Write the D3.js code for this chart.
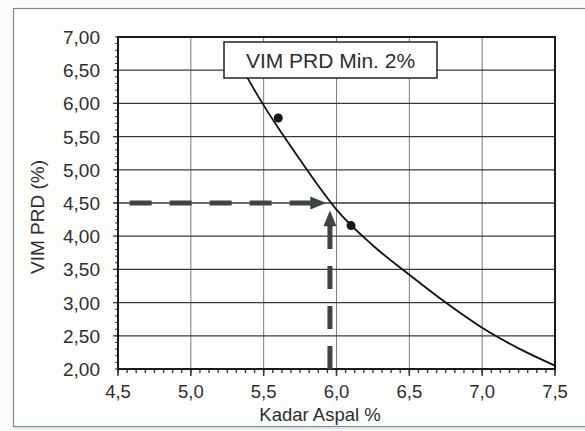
<!DOCTYPE html>
<html><head><meta charset="utf-8">
<script src="https://cdn.jsdelivr.net/npm/d3@7/dist/d3.min.js"></script>
<style>
body{margin:0;background:#fbfbfa;}
text{font-family:"Liberation Sans",Arial,sans-serif;fill:#2e2e2e;}
</style></head><body>
<script>
// ---- data ----
const xTicks = [4.5, 5.0, 5.5, 6.0, 6.5, 7.0, 7.5];
const xTickLabels = ["4,5", "5,0", "5,5", "6,0", "6,5", "7,0", "7,5"];
const yTicks = [2.0, 2.5, 3.0, 3.5, 4.0, 4.5, 5.0, 5.5, 6.0, 6.5, 7.0];
const yTickLabels = ["2,00", "2,50", "3,00", "3,50", "4,00", "4,50", "5,00", "5,50", "6,00", "6,50", "7,00"];
const pointX = [5.6, 6.1];
const pointY = [5.78, 4.16];
const curveX = [5.33, 5.39, 5.5, 5.625, 5.75, 5.875, 6.0, 6.25, 6.5, 6.75, 7.0, 7.25, 7.5];
const curveY = [6.62, 6.38, 5.97, 5.55, 5.15, 4.76, 4.40, 3.86, 3.42, 3.00, 2.62, 2.31, 2.05];
const targetY = 4.5;       // VIM PRD target
const resultX = 5.955;     // Kadar aspal
const hArrowX = [4.58, 5.93];
const vArrowY = [2.0, 4.39];
const boxLabel = "VIM PRD Min. 2%";
const xTitle = "Kadar Aspal %";
const yTitle = "VIM PRD (%)";

// ---- layout ----
const W = 585, H = 431;
const svg = d3.select("body").append("svg").attr("width", W).attr("height", H);

// outer frame
svg.append("rect").attr("x", 13.5).attr("y", 8.5).attr("width", 600).attr("height", 418)
  .attr("fill", "#fdfdfc").attr("stroke", "#8a8a8a").attr("stroke-width", 1.2);
svg.append("line").attr("x1", 14).attr("x2", 585).attr("y1", 428).attr("y2", 428)
  .attr("stroke", "#cfe3ee").attr("stroke-width", 2);

const x = d3.scaleLinear().domain([4.5, 7.5]).range([118, 555]);
const y = d3.scaleLinear().domain([2, 7]).range([369, 37]);

// plot background
svg.append("rect").attr("x", x(4.5)).attr("y", y(7)).attr("width", x(7.5) - x(4.5)).attr("height", y(2) - y(7))
  .attr("fill", "#ffffff");

// vertical gridlines
svg.append("g").selectAll("line").data(xTicks.slice(1, -1)).join("line")
  .attr("x1", d => x(d)).attr("x2", d => x(d)).attr("y1", y(7)).attr("y2", y(2))
  .attr("stroke", "#7d7d7d").attr("stroke-width", 1);

// horizontal gridlines
svg.append("g").selectAll("line").data(yTicks.slice(1, -1)).join("line")
  .attr("x1", x(4.5) - 5).attr("x2", x(7.5)).attr("y1", d => y(d)).attr("y2", d => y(d))
  .attr("stroke", "#3a3a3a").attr("stroke-width", 1.3);

// minor ticks
const yMinor = d3.range(20, 71, 1).map(v => v / 10);
svg.append("g").selectAll("line").data(yMinor).join("line")
  .attr("x1", x(4.5) - 3).attr("x2", x(4.5)).attr("y1", d => y(d)).attr("y2", d => y(d))
  .attr("stroke", "#333").attr("stroke-width", 1);
const xMinor = d3.range(0, 49, 1).map(i => 4.5 + i * 0.0625);
svg.append("g").selectAll("line").data(xMinor).join("line")
  .attr("x1", d => x(d)).attr("x2", d => x(d)).attr("y1", y(2)).attr("y2", y(2) + 4)
  .attr("stroke", "#333").attr("stroke-width", 1.3);
svg.append("g").selectAll("line").data(xTicks).join("line")
  .attr("x1", d => x(d)).attr("x2", d => x(d)).attr("y1", y(2)).attr("y2", y(2) + 7)
  .attr("stroke", "#333").attr("stroke-width", 1.5);

// plot border
svg.append("rect").attr("x", x(4.5)).attr("y", y(7)).attr("width", x(7.5) - x(4.5)).attr("height", y(2) - y(7))
  .attr("fill", "none").attr("stroke", "#1a1a1a").attr("stroke-width", 2);

// tick labels
svg.append("g").selectAll("text").data(yTicks).join("text")
  .attr("x", 100).attr("y", d => y(d) + 7).attr("text-anchor", "end")
  .attr("font-size", 19).text((d, i) => yTickLabels[i]);
svg.append("g").selectAll("text").data(xTicks).join("text")
  .attr("x", d => x(d)).attr("y", 398).attr("text-anchor", "middle")
  .attr("font-size", 18.5).text((d, i) => xTickLabels[i]);

// axis titles
svg.append("text").attr("x", 320).attr("y", 421).attr("text-anchor", "middle")
  .attr("font-size", 18.5).text(xTitle);
svg.append("text").attr("transform", "translate(44,217) rotate(-90)").attr("text-anchor", "middle")
  .attr("font-size", 19).text(yTitle);

// curve
const line = d3.line().x(d => x(d[0])).y(d => y(d[1])).curve(d3.curveMonotoneX);
svg.append("path").datum(curveX.map((v, i) => [v, curveY[i]]))
  .attr("d", line).attr("fill", "none").attr("stroke", "#111").attr("stroke-width", 1.8);

// points
svg.append("g").selectAll("circle").data(pointX).join("circle")
  .attr("cx", d => x(d)).attr("cy", (d, i) => y(pointY[i])).attr("r", 4.5).attr("fill", "#151515");

// dashed arrows
const arrowCol = "#3d4442";
const hx0 = x(hArrowX[0]), hx1 = x(hArrowX[1]), hy = y(targetY);
svg.append("line").attr("x1", hx0).attr("x2", hx1 - 14).attr("y1", hy).attr("y2", hy)
  .attr("stroke", arrowCol).attr("stroke-width", 5).attr("stroke-dasharray", "22,18");
svg.append("path").attr("d", `M${hx1},${hy} L${hx1 - 16},${hy - 6.5} L${hx1 - 16},${hy + 6.5} Z`)
  .attr("fill", arrowCol);
const vx = x(resultX), vy0 = y(vArrowY[0]), vy1 = y(vArrowY[1]);
svg.append("line").attr("x1", vx).attr("x2", vx).attr("y1", vy0).attr("y2", vy1 + 14)
  .attr("stroke", arrowCol).attr("stroke-width", 5).attr("stroke-dasharray", "23,17");
svg.append("path").attr("d", `M${vx},${vy1} L${vx - 6.5},${vy1 + 16} L${vx + 6.5},${vy1 + 16} Z`)
  .attr("fill", arrowCol);

// label box
svg.append("rect").attr("x", 224).attr("y", 42).attr("width", 213).attr("height", 36)
  .attr("fill", "#ffffff").attr("stroke", "#222").attr("stroke-width", 1.5);
svg.append("text").attr("x", 330.5).attr("y", 68).attr("text-anchor", "middle")
  .attr("font-size", 21).text(boxLabel);
</script>
</body></html>
